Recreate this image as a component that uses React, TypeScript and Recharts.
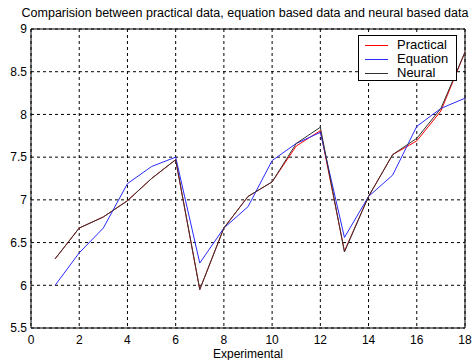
import { LineChart, Line, XAxis, YAxis, CartesianGrid, ReferenceArea } from 'recharts'

// experiment index on the x axis
const runs = [1, 2, 3, 4, 5, 6, 7, 8, 9, 10, 11, 12, 13, 14, 15, 16, 17, 18]

const practical = [6.31, 6.67, 6.8, 6.99, 7.25, 7.47, 5.95, 6.67, 7.04, 7.21, 7.63, 7.81, 6.4, 7.04, 7.53, 7.69, 8.04, 8.73]
const equation = [6.0, 6.38, 6.67, 7.19, 7.39, 7.5, 6.26, 6.67, 6.92, 7.46, 7.66, 7.79, 6.56, 7.04, 7.29, 7.86, 8.07, 8.19]
const neural = [6.31, 6.67, 6.8, 6.99, 7.25, 7.47, 5.95, 6.67, 7.04, 7.21, 7.66, 7.85, 6.39, 7.04, 7.53, 7.72, 8.07, 8.73]

const xTicks = [0, 2, 4, 6, 8, 10, 12, 14, 16, 18]
const yTicks = [5.5, 6, 6.5, 7, 7.5, 8, 8.5, 9]

const seriesNames = ['Practical', 'Equation', 'Neural']
const seriesColors = ['#ff0000', '#2a2aff', '#333333']

const font = 'Arial, "Liberation Sans", sans-serif'

const data = runs.map((x, i) => ({
  x,
  practical: practical[i],
  equation: equation[i],
  neural: neural[i],
}))

// matlab style legend box, top right inside the axes
function LegendBox() {
  return (
    <div
      style={{
        position: 'absolute',
        left: 358,
        top: 35,
        width: 99,
        height: 46,
        boxSizing: 'border-box',
        background: '#fff',
        border: '1px solid #000',
        padding: '2px 0 0 6px',
        fontFamily: font,
        fontSize: 13,
        lineHeight: '14px',
        color: '#000',
      }}
    >
      {seriesNames.map((name, i) => (
        <div key={name} style={{ display: 'flex', alignItems: 'center', height: 14 }}>
          <span style={{ display: 'inline-block', width: 23, height: 1, background: seriesColors[i], marginRight: 9 }} />
          <span>{name}</span>
        </div>
      ))}
    </div>
  )
}

export default function App() {
  return (
    <div style={{ position: 'absolute', left: 0, top: 0, width: 476, height: 360, background: '#fff' }}>
      <div
        style={{
          position: 'absolute',
          top: 6,
          left: 0,
          width: 490,
          textAlign: 'center',
          fontFamily: font,
          fontSize: 12.5,
          lineHeight: '15px',
          whiteSpace: 'nowrap',
        }}
      >
        Comparision between practical data, equation based data and neural based data
      </div>
      <LineChart width={476} height={360} data={data} margin={{ top: 29, right: 11, left: 0, bottom: 0 }}>
        <CartesianGrid stroke="#000" strokeDasharray="3 3" />
        <XAxis
          dataKey="x"
          type="number"
          domain={[0, 18]}
          ticks={xTicks}
          height={32}
          tickLine={false}
          axisLine={false}
          tickSize={0}
          tickMargin={7}
          tick={{ fill: '#000', fontSize: 12, fontFamily: font }}
        />
        <YAxis
          type="number"
          domain={[5.5, 9]}
          ticks={yTicks}
          width={31}
          tickLine={false}
          axisLine={false}
          tickSize={0}
          tickMargin={4}
          tick={{ fill: '#000', fontSize: 12, fontFamily: font }}
        />
        <ReferenceArea x1={0} x2={18} y1={5.5} y2={9} fill="none" stroke="#000" strokeWidth={1} />
        <Line dataKey="practical" stroke={seriesColors[0]} strokeWidth={1} dot={false} isAnimationActive={false} />
        <Line dataKey="equation" stroke={seriesColors[1]} strokeWidth={1} dot={false} isAnimationActive={false} />
        <Line dataKey="neural" stroke={seriesColors[2]} strokeWidth={1} dot={false} isAnimationActive={false} />
      </LineChart>
      <LegendBox />
      <div
        style={{
          position: 'absolute',
          top: 347,
          left: 0,
          width: 496,
          textAlign: 'center',
          fontFamily: font,
          fontSize: 12,
        }}
      >
        Experimental
      </div>
    </div>
  )
}
